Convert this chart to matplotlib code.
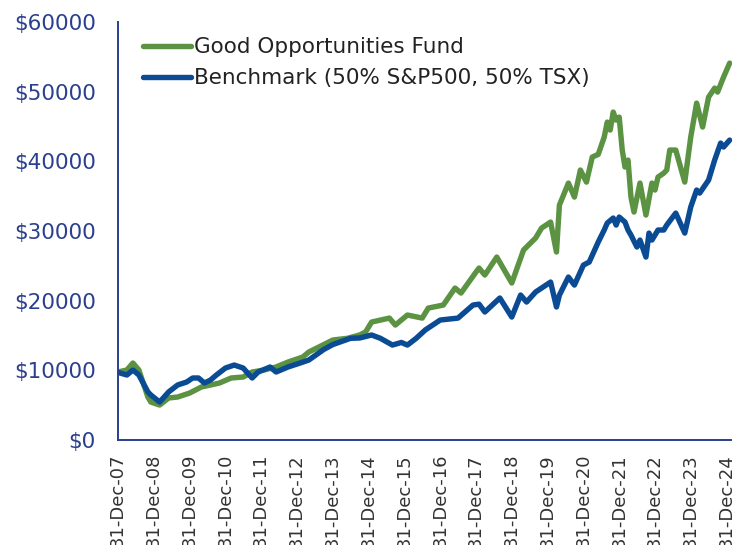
import pandas as pd
import matplotlib
matplotlib.use("Agg")
import matplotlib.pyplot as plt
import matplotlib.dates as mdates
from matplotlib.ticker import FuncFormatter

# Valeurs (fin de mois)
fund_months = [
    "2007-12", "2008-03", "2008-05", "2008-07", "2008-10", "2008-11", "2009-02", "2009-05",
    "2009-08", "2009-12", "2010-04", "2010-07", "2010-10", "2011-02", "2011-06", "2011-09",
    "2012-01", "2012-05", "2012-09", "2013-02", "2013-04", "2013-09", "2013-12", "2014-05",
    "2014-09", "2014-11", "2015-01", "2015-07", "2015-09", "2016-01", "2016-06", "2016-08",
    "2017-01", "2017-05", "2017-07", "2017-12", "2018-01", "2018-03", "2018-07", "2018-12",
    "2019-04", "2019-08", "2019-10", "2020-01", "2020-03", "2020-04", "2020-07", "2020-09",
    "2020-11", "2021-01", "2021-03", "2021-05", "2021-07", "2021-08", "2021-09", "2021-10",
    "2021-11", "2021-12", "2022-01", "2022-02", "2022-03", "2022-04", "2022-05", "2022-07",
    "2022-09", "2022-11", "2022-12", "2023-01", "2023-03", "2023-04", "2023-05", "2023-07",
    "2023-10", "2023-12", "2024-02", "2024-04", "2024-06", "2024-08", "2024-09", "2024-11",
    "2025-01",
]
fund_values = [
    9760, 10050, 11050, 10050, 6170, 5450, 5020, 6030,
    6170, 6740, 7610, 7890, 8180, 8900, 9040, 9760,
    10050, 10480, 11190, 11910, 12630, 13700, 14350, 14600,
    15070, 15500, 16930, 17500, 16500, 17940, 17500, 18940,
    19370, 21810, 21090, 24110, 24680, 23680, 26260, 22530,
    27270, 28990, 30420, 31280, 26980, 33720, 36880, 34870,
    38750, 37020, 40610, 41000, 43480, 45630, 44490, 47070,
    45920, 46350, 41620, 39180, 40180, 34870, 32720, 36880,
    32290, 36880, 35880, 37740, 38310, 38750, 41620, 41620,
    37020, 43480, 48360, 44920, 49220, 50510, 49940, 52090,
    54100,
]

bench_months = [
    "2007-12", "2008-03", "2008-05", "2008-07", "2008-10", "2008-11", "2009-02", "2009-05",
    "2009-08", "2009-11", "2010-01", "2010-03", "2010-05", "2010-07", "2010-09", "2010-12",
    "2011-03", "2011-06", "2011-09", "2011-11", "2012-03", "2012-05", "2012-09", "2013-01",
    "2013-04", "2013-09", "2013-12", "2014-06", "2014-09", "2015-01", "2015-04", "2015-08",
    "2015-11", "2016-01", "2016-04", "2016-07", "2016-12", "2017-06", "2017-11", "2018-01",
    "2018-03", "2018-08", "2018-12", "2019-03", "2019-05", "2019-08", "2020-01", "2020-03",
    "2020-04", "2020-07", "2020-09", "2020-12", "2021-02", "2021-05", "2021-07", "2021-08",
    "2021-10", "2021-11", "2021-12", "2022-02", "2022-03", "2022-04", "2022-06", "2022-07",
    "2022-09", "2022-10", "2022-11", "2023-01", "2023-03", "2023-04", "2023-07", "2023-10",
    "2023-12", "2024-02", "2024-03", "2024-06", "2024-08", "2024-10", "2024-11", "2025-01",
]
bench_values = [
    9700, 9330, 10050, 9330, 6900, 6460, 5450, 6900,
    7900, 8320, 8900, 8900, 8180, 8600, 9330, 10330,
    10760, 10330, 8900, 9760, 10480, 9760, 10480, 11050,
    11480, 13000, 13700, 14600, 14640, 15070, 14600, 13630,
    14000, 13630, 14600, 15790, 17220, 17500, 19370, 19500,
    18370, 20380, 17650, 20810, 19800, 21240, 22670, 19090,
    20810, 23390, 22240, 25110, 25540, 28410, 30140, 31140,
    31860, 30850, 32000, 31280, 30140, 29420, 27700, 28700,
    26260, 29700, 28700, 30140, 30140, 30850, 32570, 29700,
    33440, 35880, 35440, 37310, 40180, 42620, 42050, 43050,
]

fund_label = "Good Opportunities Fund"
bench_label = "Benchmark (50% S&P500, 50% TSX)"

GREEN = "#5b9343"
BLUE = "#0a4b94"
NAVY = "#2a3f8e"


def month_end(months):
    return pd.to_datetime(months) + pd.offsets.MonthEnd(0)


def main():
    fund_dates = month_end(fund_months)
    bench_dates = month_end(bench_months)

    fig = plt.figure(figsize=(7.32, 5.45), dpi=100)
    ax = fig.add_axes([118 / 732, 1 - 440 / 545, 1 - 118 / 732, (440 - 22) / 545])

    ax.plot(fund_dates, fund_values, color=GREEN, lw=3.9, solid_capstyle="round",
            solid_joinstyle="round", label=fund_label)
    ax.plot(bench_dates, bench_values, color=BLUE, lw=3.9, solid_capstyle="round",
            solid_joinstyle="round", label=bench_label)

    ax.set_ylim(0, 60000)
    ax.set_yticks(range(0, 60001, 10000))
    ax.yaxis.set_major_formatter(FuncFormatter(lambda v, p: f"${int(v)}"))

    ticks = pd.to_datetime([f"{y}-12-31" for y in range(2007, 2025)])
    ax.set_xticks(ticks)
    ax.xaxis.set_major_formatter(mdates.DateFormatter("%d-%b-%y"))
    ax.set_xlim(pd.Timestamp("2007-12-31"), pd.Timestamp("2025-02-24"))

    for side in ["top", "right"]:
        ax.spines[side].set_visible(False)
    for side in ["left", "bottom"]:
        ax.spines[side].set_color(NAVY)
        ax.spines[side].set_linewidth(1.4)

    ax.tick_params(axis="y", length=0, pad=16, labelsize=15.5, labelcolor=NAVY)
    ax.tick_params(axis="x", length=0, pad=10, labelsize=13, labelcolor="#333333",
                   labelrotation=90)

    leg = ax.legend(loc="upper left", bbox_to_anchor=(0.041, 0.963), frameon=False,
                    fontsize=15.5, handlelength=2.2, handletextpad=0.15,
                    labelspacing=0.5, borderpad=0, borderaxespad=0)
    for t in leg.get_texts():
        t.set_color("#222222")

    fig.savefig("out.png", dpi=100)


if __name__ == "__main__":
    main()
